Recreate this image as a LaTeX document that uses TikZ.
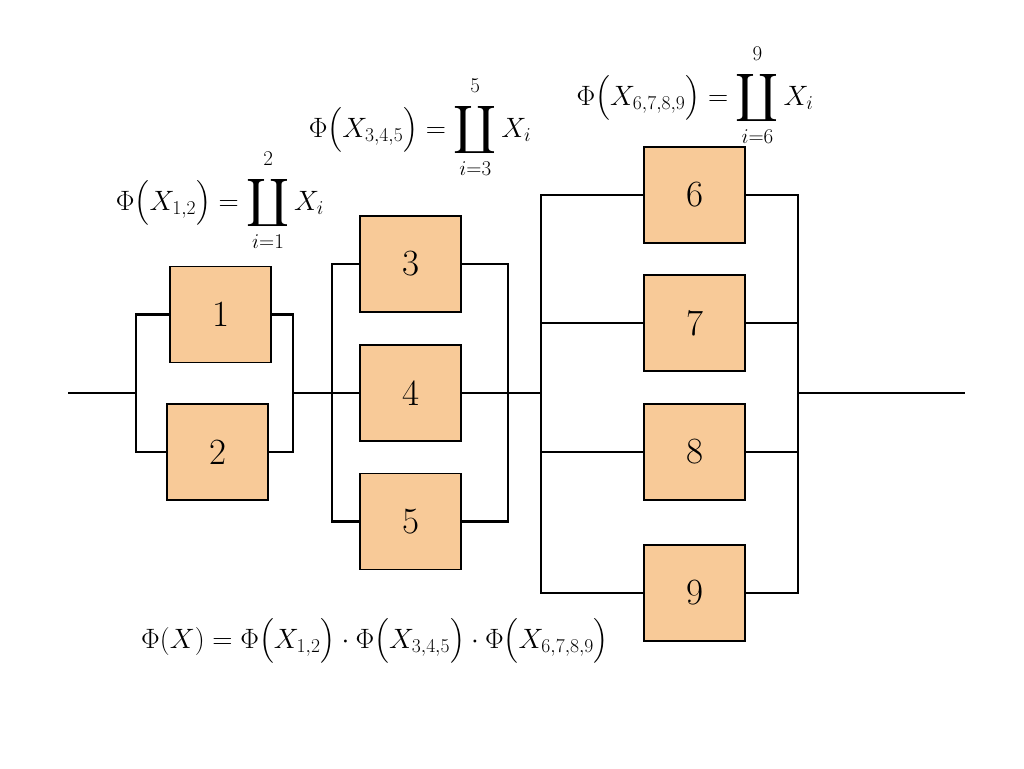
\documentclass[tikz,border=0pt]{standalone}
\usepackage{fix-cm}
\usepackage{amsmath}
\usepackage{graphicx}
\usetikzlibrary{backgrounds}
\definecolor{boxfill}{RGB}{248,202,152}
\newcommand{\limtext}[1]{\mbox{\fontsize{21}{23}\selectfont$#1$}}
\newcommand{\cop}[2]{\mathop{\vcenter{\hbox{\scalebox{1.35}{$\displaystyle\coprod$}}}}\limits_{\raisebox{-2pt}{\limtext{#1}}}^{\raisebox{6pt}{\limtext{#2}}}}
\tikzset{
  comp/.style={draw=black, line width=1.4pt, fill=boxfill, minimum width=101pt, minimum height=96pt, inner sep=0pt, font=\fontsize{37}{40}\selectfont},
  wire/.style={line width=2.7pt, line join=miter},
  formula/.style={inner sep=0pt, font=\fontsize{28}{32}\selectfont}
}
\begin{document}
\begin{tikzpicture}[x=1pt,y=-1pt]
\useasboundingbox (0,0) rectangle (1024,768);
% components
\node[comp] (b1) at (220.5,314.5) {1};
\node[comp] (b2) at (217.5,452) {2};
\node[comp] (b3) at (410.5,264) {3};
\node[comp] (b4) at (410.5,393) {4};
\node[comp] (b5) at (410.5,521.5) {5};
\node[comp] (b6) at (694.5,195) {6};
\node[comp] (b7) at (694.5,323) {7};
\node[comp] (b8) at (694.5,452) {8};
\node[comp] (b9) at (694.5,593) {9};
% junction coordinates
\coordinate (in) at (68,393);
\coordinate (L1) at (136,393);
\coordinate (R1) at (293,393);
\coordinate (L2) at (332,393);
\coordinate (R2) at (508,393);
\coordinate (L3) at (541,393);
\coordinate (R3) at (798,393);
\coordinate (out) at (965,393);
% wiring
\begin{scope}[on background layer]
\draw[wire] (in) -- (L1);
\draw[wire] (b1.west) -| (L1) |- (b2.west);
\draw[wire] (b1.east) -| (R1) |- (b2.east);
\draw[wire] (R1) -- (L2);
\draw[wire] (b3.west) -| (L2) |- (b5.west);
\draw[wire] (L2) -- (b4.west);
\draw[wire] (b3.east) -| (R2) |- (b5.east);
\draw[wire] (b4.east) -- (R2);
\draw[wire] (R2) -- (L3);
\draw[wire] (b6.west) -| (L3) |- (b9.west);
\draw[wire] (L3 |- b7.west) -- (b7.west);
\draw[wire] (L3 |- b8.west) -- (b8.west);
\draw[wire] (b6.east) -| (R3) |- (b9.east);
\draw[wire] (b7.east) -- (R3 |- b7.east);
\draw[wire] (b8.east) -- (R3 |- b8.east);
\draw[wire] (R3) -- (out);
\end{scope}
% formulas
\node[formula] (f1) at (220,200) {$\Phi\bigl(X_{1,2}\bigr) = \cop{i{=}1}{2} X_i$};
\node[formula] (f2) at (420,127) {$\Phi\bigl(X_{3,4,5}\bigr) = \cop{i{=}3}{5} X_i$};
\node[formula] (f3) at (695,95) {$\Phi\bigl(X_{6,7,8,9}\bigr) = \cop{i{=}6}{9} X_i$};
\node[formula] (f4) at (375,641) {$\Phi(X) = \Phi\bigl(X_{1,2}\bigr)\cdot\Phi\bigl(X_{3,4,5}\bigr)\cdot\Phi\bigl(X_{6,7,8,9}\bigr)$};
\end{tikzpicture}
\end{document}
